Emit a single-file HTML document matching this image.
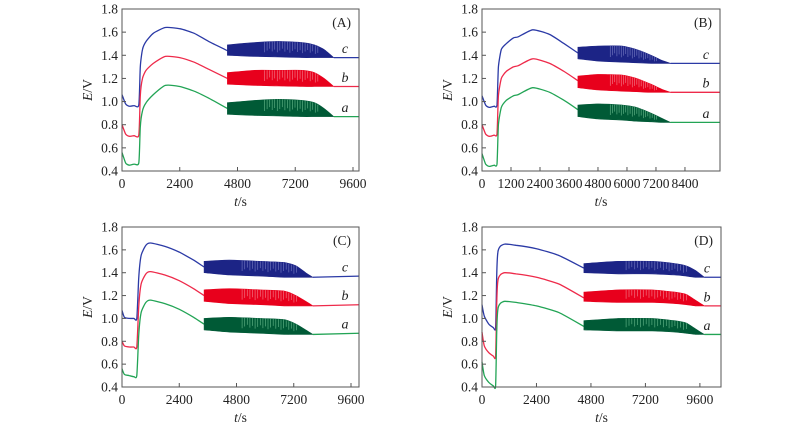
<!DOCTYPE html>
<html><head><meta charset="utf-8"><style>
html,body{margin:0;padding:0;background:#fff;}
svg{display:block;font-family:"Liberation Serif",serif;}
</style></head><body>
<svg id="chart" width="800" height="432" viewBox="0 0 800 432" xmlns="http://www.w3.org/2000/svg"></svg>
<script>
// Panel A
const A_preT=[0,150,300,500,700,760,850,1000,1300,1800,2400,3000,3600,4380];
const A_c=[1.06,0.98,0.96,0.965,0.97,1.30,1.45,1.52,1.59,1.64,1.63,1.59,1.52,1.44];
const A_b=[0.80,0.72,0.70,0.705,0.71,1.05,1.20,1.27,1.33,1.39,1.38,1.34,1.28,1.20];
const A_a=[0.56,0.47,0.45,0.46,0.47,0.78,0.92,0.99,1.06,1.14,1.13,1.09,1.03,0.94];
const A_oscT=[4380,5500,6500,7500,8000,8400,8800];
const A_cUp=[1.49,1.51,1.52,1.51,1.49,1.45,1.38];
const A_cLo=[1.40,1.39,1.385,1.38,1.38,1.38,1.38];
const A_bUp=[1.25,1.27,1.27,1.27,1.25,1.20,1.13];
const A_bLo=[1.15,1.14,1.135,1.13,1.13,1.13,1.13];
const A_aUp=[0.99,1.01,1.02,1.01,0.99,0.94,0.87];
const A_aLo=[0.89,0.88,0.875,0.87,0.87,0.87,0.87];
const A_tail=[1.38,1.13,0.87];
const A_xticks=[0,2400,4800,7200,9600];
// Panel B
const B_preT=[0,150,300,500,620,680,800,1000,1300,1500,2100,2800,3400,3970];
const B_c=[1.05,0.97,0.95,0.96,0.97,1.30,1.45,1.50,1.55,1.56,1.62,1.58,1.50,1.42];
const B_b=[0.80,0.72,0.70,0.71,0.72,1.05,1.20,1.26,1.30,1.31,1.37,1.33,1.26,1.18];
const B_a=[0.55,0.46,0.44,0.45,0.46,0.80,0.95,1.01,1.05,1.06,1.12,1.08,1.01,0.93];
const B_oscT=[3970,4800,5800,6400,7000,7400,7800];
const B_cUp=[1.47,1.48,1.48,1.45,1.40,1.36,1.33];
const B_cLo=[1.37,1.35,1.34,1.335,1.33,1.33,1.33];
const B_bUp=[1.22,1.235,1.23,1.20,1.15,1.11,1.08];
const B_bLo=[1.12,1.10,1.09,1.085,1.08,1.08,1.08];
const B_aUp=[0.97,0.98,0.97,0.95,0.90,0.86,0.82];
const B_aLo=[0.87,0.85,0.84,0.83,0.825,0.82,0.82];
const B_tail=[1.33,1.08,0.82];
const B_xticks=[0,1200,2400,3600,4800,6000,7200,8400];
// Panel C
const C_preT=[0,100,300,500,620,700,800,1000,1200,1800,2400,3000,3440];
const C_c=[1.07,1.01,1.00,1.00,1.00,1.35,1.55,1.64,1.66,1.63,1.58,1.51,1.45];
const C_b=[0.80,0.76,0.75,0.75,0.75,1.10,1.30,1.39,1.41,1.38,1.33,1.26,1.20];
const C_a=[0.56,0.51,0.50,0.49,0.50,0.85,1.05,1.14,1.16,1.13,1.08,1.01,0.95];
const C_oscT=[3440,4500,5800,6800,7300,7700,8000];
const C_cUp=[1.50,1.51,1.50,1.49,1.46,1.40,1.36];
const C_cLo=[1.40,1.38,1.37,1.36,1.36,1.36,1.36];
const C_bUp=[1.25,1.26,1.25,1.24,1.20,1.15,1.11];
const C_bLo=[1.15,1.13,1.12,1.11,1.11,1.11,1.11];
const C_aUp=[1.00,1.01,1.00,0.99,0.95,0.90,0.86];
const C_aLo=[0.90,0.88,0.87,0.86,0.86,0.86,0.86];
const C_tail=[1.37,1.12,0.87];
const C_xticks=[0,2400,4800,7200,9600];
// Panel D
const D_preT=[0,100,300,500,600,650,700,800,1000,1500,2400,3400,4490];
const D_c=[1.12,1.02,0.95,0.92,0.92,1.40,1.58,1.63,1.65,1.64,1.61,1.55,1.44];
const D_b=[0.88,0.76,0.70,0.67,0.67,1.15,1.33,1.38,1.40,1.39,1.36,1.30,1.18];
const D_a=[0.62,0.50,0.44,0.41,0.41,0.90,1.08,1.13,1.15,1.14,1.11,1.05,0.93];
const D_oscT=[4490,6000,7500,8500,9000,9400,9800];
const D_cUp=[1.48,1.50,1.50,1.48,1.46,1.42,1.36];
const D_cLo=[1.40,1.39,1.39,1.38,1.37,1.36,1.36];
const D_bUp=[1.23,1.25,1.25,1.23,1.21,1.16,1.11];
const D_bLo=[1.15,1.14,1.14,1.13,1.12,1.11,1.11];
const D_aUp=[0.98,1.00,1.00,0.98,0.96,0.91,0.86];
const D_aLo=[0.90,0.89,0.89,0.88,0.87,0.86,0.86];
const D_tail=[1.36,1.11,0.86];
const D_xticks=[0,2400,4800,7200,9600];
const yTicks=[0.4,0.6,0.8,1.0,1.2,1.4,1.6,1.8];

const NS="http://www.w3.org/2000/svg";
const svg=document.getElementById('chart');
function mk(tag,attrs,parent){const e=document.createElementNS(NS,tag);for(const k in attrs)e.setAttribute(k,attrs[k]);(parent||svg).appendChild(e);return e;}
function smooth(pts){
  let d='M'+pts[0][0].toFixed(1)+','+pts[0][1].toFixed(1);
  for(let i=0;i<pts.length-1;i++){
    const p0=pts[Math.max(0,i-1)],p1=pts[i],p2=pts[i+1],p3=pts[Math.min(pts.length-1,i+2)];
    const k=0.1;
    const c1=[p1[0]+(p2[0]-p0[0])*k,p1[1]+(p2[1]-p0[1])*k];
    const c2=[p2[0]-(p3[0]-p1[0])*k,p2[1]-(p3[1]-p1[1])*k];
    d+=' C'+c1[0].toFixed(1)+','+c1[1].toFixed(1)+' '+c2[0].toFixed(1)+','+c2[1].toFixed(1)+' '+p2[0].toFixed(1)+','+p2[1].toFixed(1);
  }
  return d;
}
function interp(ts,vs,t){for(let i=0;i<ts.length-1;i++){if(t<=ts[i+1]){const f=(t-ts[i])/(ts[i+1]-ts[i]);return vs[i]+f*(vs[i+1]-vs[i]);}}return vs[vs.length-1];}

const panels=[
 {id:'A',L:122,R:359,T:9,B:171,xmax:9850,xticks:A_xticks,preT:A_preT,pre:[A_c,A_b,A_a],oscT:A_oscT,up:[A_cUp,A_bUp,A_aUp],lo:[A_cLo,A_bLo,A_aLo],tail:A_tail},
 {id:'B',L:482,R:720,T:9,B:171,xmax:9850,xticks:B_xticks,preT:B_preT,pre:[B_c,B_b,B_a],oscT:B_oscT,up:[B_cUp,B_bUp,B_aUp],lo:[B_cLo,B_bLo,B_aLo],tail:B_tail},
 {id:'C',L:122,R:359,T:227,B:387,xmax:9935,xticks:C_xticks,preT:C_preT,pre:[C_c,C_b,C_a],oscT:C_oscT,up:[C_cUp,C_bUp,C_aUp],lo:[C_cLo,C_bLo,C_aLo],tail:C_tail},
 {id:'D',L:482,R:721,T:227,B:387,xmax:10530,xticks:D_xticks,preT:D_preT,pre:[D_c,D_b,D_a],oscT:D_oscT,up:[D_cUp,D_bUp,D_aUp],lo:[D_cLo,D_bLo,D_aLo],tail:D_tail}
];
const lineCol=['#2b3aa6','#ee2a4a','#22a455'];
const fillCol=['#1c2486','#e8001c','#005a36'];
const stripeCol=['#8a90d0','#f5a0aa','#7fd0a0'];
const names=['c','b','a'];

panels.forEach(p=>{
  const g=mk('g',{});
  
  
  const X=t=>p.L+(t/p.xmax)*(p.R-p.L);
  const Y=v=>p.B-(v-0.4)/1.4*(p.B-p.T);
  for(let s=0;s<3;s++){
    const pts=p.preT.map((t,i)=>[X(t),Y(p.pre[s][i])]);
    const pl=mk('path',{d:smooth(pts),fill:'none',stroke:lineCol[s],'stroke-width':1.3},g);
    
    
    const o=p.oscT;
    const upPts=o.map((t,i)=>[X(t),Y(p.up[s][i])]);
    const loPts=o.map((t,i)=>[X(t),Y(p.lo[s][i])]).reverse();
    const d=smooth(upPts)+' L'+loPts[0][0].toFixed(1)+','+loPts[0][1].toFixed(1)+' '+smooth(loPts).slice(1)+' Z';
    const band=mk('path',{d:d,fill:fillCol[s],stroke:fillCol[s],'stroke-width':0.6},g);
    
    
    const t0=o[0],t1=o[o.length-1];
    for(let k=0;k<22;k++){
      const t=t0+(t1-t0)*(0.35+0.5*k/21);
      const u=interp(o,p.up[s],t),l=interp(o,p.lo[s],t);
      const ln=mk('line',{x1:X(t).toFixed(1),x2:X(t).toFixed(1),y1:Y(u).toFixed(1),y2:Y(l+(u-l)*(0.3+0.3*((k*7)%5)/5)).toFixed(1),stroke:stripeCol[s],'stroke-width':0.7,opacity:0.7},g);
      
      
    }
    const tl=mk('polyline',{points:X(t1)+','+Y(p.lo[s][o.length-1])+' '+X(p.xmax)+','+Y(p.tail[s]),fill:'none',stroke:lineCol[s],'stroke-width':1.3},g);
    
    
    const lb=mk('text',{x:p.R-14,y:Y(p.tail[s]+0.04),'font-size':14,'font-style':'italic','text-anchor':'middle',fill:'#222'},g);
    lb.textContent=names[s];
    
    
  }
  const fr=mk('rect',{x:p.L,y:p.T,width:p.R-p.L,height:p.B-p.T,fill:'none',stroke:'#555','stroke-width':1},g);
  
  
  yTicks.forEach(v=>{
    mk('line',{x1:p.L,x2:p.L+4,y1:Y(v),y2:Y(v),stroke:'#555'},g);
    const t=mk('text',{x:p.L-4,y:Y(v)+4.5,'font-size':13.5,'text-anchor':'end',fill:'#222'},g);
    t.textContent=v.toFixed(1);
    
    
  });
  p.xticks.forEach(v=>{
    mk('line',{x1:X(v),x2:X(v),y1:p.B,y2:p.B-4,stroke:'#555'},g);
    const t=mk('text',{x:X(v),y:p.B+17,'font-size':13.5,'text-anchor':'middle',fill:'#222'},g);
    t.textContent=v;
    
    
  });
  const pl=mk('text',{x:p.R-8,y:p.T+18,'font-size':13.5,'text-anchor':'end',fill:'#222'},g);
  pl.textContent='('+p.id+')';
  
  
  const yl=mk('text',{x:0,y:0,'font-size':13.5,'text-anchor':'middle',fill:'#222',transform:'translate('+(p.L-30)+','+((p.T+p.B)/2)+') rotate(-90)'},g);
  yl.innerHTML='<tspan font-style="italic">E</tspan>/V';
  
  
  const xl=mk('text',{x:(p.L+p.R)/2,y:p.B+35,'font-size':13.5,'text-anchor':'middle',fill:'#222'},g);
  xl.innerHTML='<tspan font-style="italic">t</tspan>/s';
  
  
});
</script>
</body></html>
